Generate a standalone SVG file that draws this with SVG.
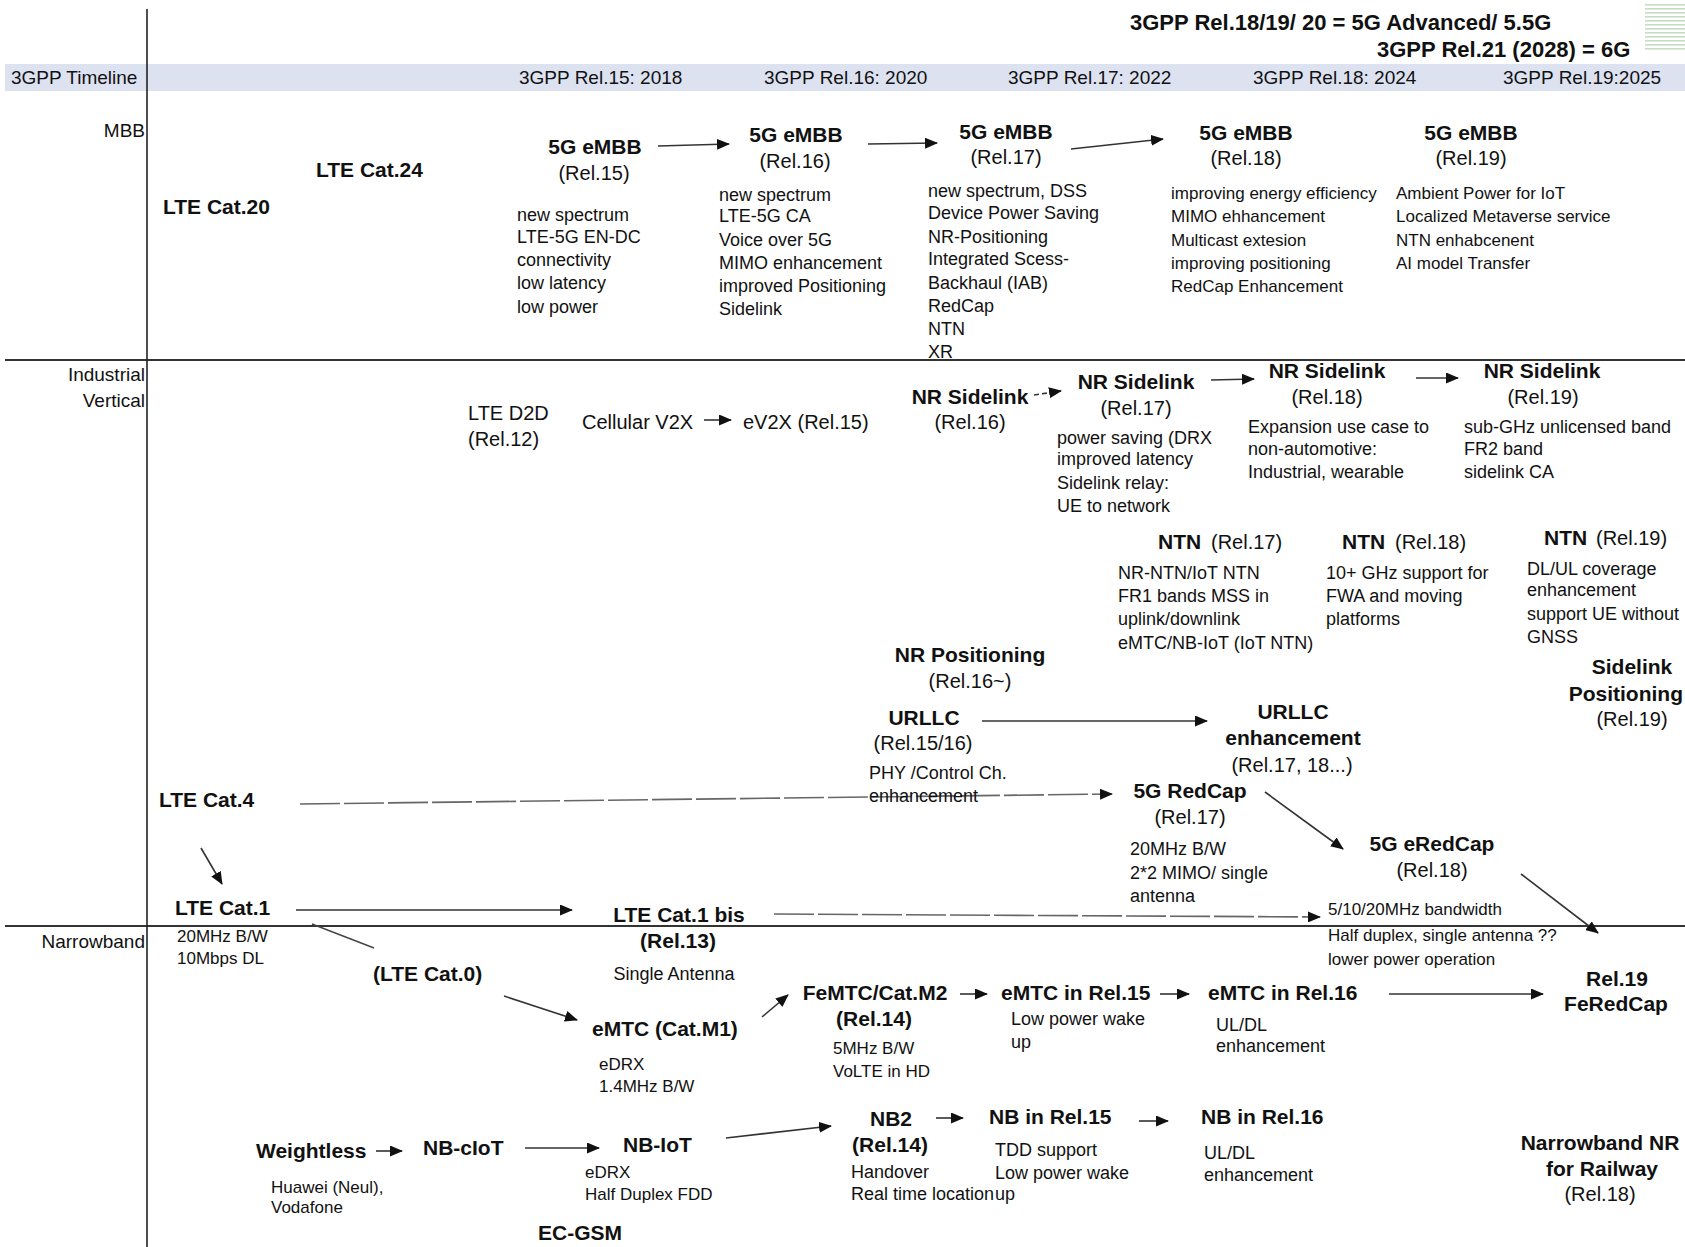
<svg xmlns="http://www.w3.org/2000/svg" width="1685" height="1247" viewBox="0 0 1685 1247">
<defs>
<style>
text{font-family:"Liberation Sans",Arial,sans-serif;fill:#111}
.b{font-weight:bold;font-size:21px}
.r{font-size:20px}
.l{font-size:18px}
.s{font-size:17px}
.tl{font-size:19px}
.h{font-weight:bold;font-size:22px}
.c{text-anchor:middle}
.e{text-anchor:end}
.cn{stroke:#333;stroke-width:1.6;fill:none;marker-end:url(#ah)}
.ds{stroke:#666;stroke-dasharray:40 4}
.ln{stroke:#333;stroke-width:2;fill:none}
</style>
<marker id="ah" markerUnits="userSpaceOnUse" markerWidth="13" markerHeight="11" viewBox="0 0 13 11" refX="12" refY="5.5" orient="auto">
<path d="M0,0 L13,5.5 L0,11 z" fill="#111"/>
</marker>
<pattern id="stripes" patternUnits="userSpaceOnUse" width="40" height="4">
<rect x="0" y="0" width="40" height="1.6" fill="#c6dcc4"/>
</pattern>
</defs>
<rect width="1685" height="1247" fill="#fff"/>
<g id="frame">
<rect x="5" y="64" width="1680" height="27" fill="#dde2f1"/>
<rect x="1645" y="2" width="40" height="50" fill="url(#stripes)"/>
<line class="ln" x1="5" y1="360" x2="1685" y2="360"/>
<line class="ln" x1="5" y1="926" x2="1685" y2="926"/>
<line x1="147" y1="9" x2="147" y2="1247" stroke="#222" stroke-width="1.6"/>
</g>
<g id="header">
<text class="h" x="1130" y="30">3GPP Rel.18/19/ 20 = 5G Advanced/ 5.5G</text>
<text class="h" x="1377" y="57">3GPP Rel.21 (2028) = 6G</text>
</g>
<g id="timeline">
<text class="tl" x="11" y="84">3GPP Timeline</text>
<text class="tl" x="519" y="84">3GPP Rel.15: 2018</text>
<text class="tl" x="764" y="84">3GPP Rel.16: 2020</text>
<text class="tl" x="1008" y="84">3GPP Rel.17: 2022</text>
<text class="tl" x="1253" y="84">3GPP Rel.18: 2024</text>
<text class="tl" x="1503" y="84">3GPP Rel.19:2025</text>
</g>
<g id="lanes">
<text class="tl e" x="145" y="137">MBB</text>
<text class="tl e" x="145" y="381">Industrial</text>
<text class="tl e" x="145" y="407">Vertical</text>
<text class="tl e" x="145" y="948">Narrowband</text>
</g>
<g id="connectors">
<line class="cn" x1="658" y1="146" x2="729" y2="144"/>
<line class="cn" x1="868" y1="144" x2="937" y2="143"/>
<line class="cn" x1="1071" y1="149" x2="1163" y2="139"/>
<line class="cn" x1="704" y1="420" x2="731" y2="420"/>
<line class="cn" x1="1034" y1="395" x2="1061" y2="391" style="stroke-dasharray:5 3"/>
<line class="cn" x1="1211" y1="380" x2="1254" y2="379"/>
<line class="cn" x1="1416" y1="378" x2="1458" y2="378"/>
<line class="cn" x1="982" y1="721" x2="1207" y2="721"/>
<line class="cn ds" x1="300" y1="804" x2="1112" y2="794"/>
<line class="cn" x1="1265" y1="792" x2="1343" y2="849"/>
<line class="cn" x1="1521" y1="874" x2="1598" y2="933"/>
<line class="cn" x1="201" y1="848" x2="222" y2="884"/>
<line class="cn" x1="296" y1="910" x2="572" y2="910"/>
<line x1="312" y1="924" x2="374" y2="948" stroke="#444" stroke-width="1.4"/>
<line class="cn ds" x1="774" y1="914" x2="1320" y2="917"/>
<line class="cn" x1="504" y1="996" x2="577" y2="1020"/>
<line class="cn" x1="762" y1="1017" x2="788" y2="995"/>
<line class="cn" x1="960" y1="994" x2="987" y2="994"/>
<line class="cn" x1="1160" y1="994" x2="1189" y2="994"/>
<line class="cn" x1="1389" y1="994" x2="1543" y2="994"/>
<line class="cn" x1="376" y1="1151" x2="402" y2="1151"/>
<line class="cn" x1="525" y1="1148" x2="599" y2="1148"/>
<line class="cn" x1="726" y1="1138" x2="831" y2="1126"/>
<line class="cn" x1="936" y1="1118" x2="963" y2="1118"/>
<line class="cn" x1="1139" y1="1121" x2="1168" y2="1121"/>
</g>
<g id="lte-cat20"><text class="b" x="163" y="214">LTE Cat.20</text></g>
<g id="lte-cat24"><text class="b" x="316" y="177">LTE Cat.24</text></g>
<g id="embb-15">
<text class="b c" x="595" y="154">5G eMBB</text>
<text class="r c" x="594" y="180">(Rel.15)</text>
<text class="l" x="517" y="221">new spectrum</text>
<text class="l" x="517" y="243">LTE-5G EN-DC</text>
<text class="l" x="517" y="266">connectivity</text>
<text class="l" x="517" y="289">low latency</text>
<text class="l" x="517" y="313">low power</text>
</g>
<g id="embb-16">
<text class="b c" x="796" y="142">5G eMBB</text>
<text class="r c" x="795" y="168">(Rel.16)</text>
<text class="l" x="719" y="201">new spectrum</text>
<text class="l" x="719" y="222">LTE-5G CA</text>
<text class="l" x="719" y="246">Voice over 5G</text>
<text class="l" x="719" y="269">MIMO enhancement</text>
<text class="l" x="719" y="292">improved Positioning</text>
<text class="l" x="719" y="315">Sidelink</text>
</g>
<g id="embb-17">
<text class="b c" x="1006" y="139">5G eMBB</text>
<text class="r c" x="1006" y="164">(Rel.17)</text>
<text class="l" x="928" y="197">new spectrum, DSS</text>
<text class="l" x="928" y="219">Device Power Saving</text>
<text class="l" x="928" y="243">NR-Positioning</text>
<text class="l" x="928" y="265">Integrated Scess-</text>
<text class="l" x="928" y="289">Backhaul (IAB)</text>
<text class="l" x="928" y="312">RedCap</text>
<text class="l" x="928" y="335">NTN</text>
<text class="l" x="928" y="358">XR</text>
</g>
<g id="embb-18">
<text class="b c" x="1246" y="140">5G eMBB</text>
<text class="r c" x="1246" y="165">(Rel.18)</text>
<text class="s" x="1171" y="199">improving energy efficiency</text>
<text class="s" x="1171" y="222">MIMO ehhancement</text>
<text class="s" x="1171" y="246">Multicast extesion</text>
<text class="s" x="1171" y="269">improving positioning</text>
<text class="s" x="1171" y="292">RedCap Enhancement</text>
</g>
<g id="embb-19">
<text class="b c" x="1471" y="140">5G eMBB</text>
<text class="r c" x="1471" y="165">(Rel.19)</text>
<text class="s" x="1396" y="199">Ambient Power for IoT</text>
<text class="s" x="1396" y="222">Localized Metaverse service</text>
<text class="s" x="1396" y="246">NTN enhabcenent</text>
<text class="s" x="1396" y="269">AI model Transfer</text>
</g>
<g id="lte-d2d">
<text class="r" x="468" y="420">LTE D2D</text>
<text class="r" x="468" y="446">(Rel.12)</text>
</g>
<g id="cv2x"><text class="r" x="582" y="429">Cellular V2X</text></g>
<g id="ev2x"><text class="r" x="743" y="429">eV2X (Rel.15)</text></g>
<g id="sl-16">
<text class="b c" x="970" y="404">NR Sidelink</text>
<text class="r c" x="970" y="429">(Rel.16)</text>
</g>
<g id="sl-17">
<text class="b c" x="1136" y="389">NR Sidelink</text>
<text class="r c" x="1136" y="415">(Rel.17)</text>
<text class="l" x="1057" y="444">power saving (DRX</text>
<text class="l" x="1057" y="465">improved latency</text>
<text class="l" x="1057" y="489">Sidelink relay:</text>
<text class="l" x="1057" y="512">UE to network</text>
</g>
<g id="sl-18">
<text class="b c" x="1327" y="378">NR Sidelink</text>
<text class="r c" x="1327" y="404">(Rel.18)</text>
<text class="l" x="1248" y="433">Expansion use case to</text>
<text class="l" x="1248" y="455">non-automotive:</text>
<text class="l" x="1248" y="478">Industrial, wearable</text>
</g>
<g id="sl-19">
<text class="b c" x="1542" y="378">NR Sidelink</text>
<text class="r c" x="1543" y="404">(Rel.19)</text>
<text class="l" x="1464" y="433">sub-GHz unlicensed band</text>
<text class="l" x="1464" y="455">FR2 band</text>
<text class="l" x="1464" y="478">sidelink CA</text>
</g>
<g id="ntn-17">
<text class="b" x="1158" y="549">NTN</text>
<text class="r" x="1211" y="549">(Rel.17)</text>
<text class="l" x="1118" y="579">NR-NTN/IoT NTN</text>
<text class="l" x="1118" y="602">FR1 bands MSS in</text>
<text class="l" x="1118" y="625">uplink/downlink</text>
<text class="l" x="1118" y="649">eMTC/NB-IoT (IoT NTN)</text>
</g>
<g id="ntn-18">
<text class="b" x="1342" y="549">NTN</text>
<text class="r" x="1395" y="549">(Rel.18)</text>
<text class="l" x="1326" y="579">10+ GHz support for</text>
<text class="l" x="1326" y="602">FWA and moving</text>
<text class="l" x="1326" y="625">platforms</text>
</g>
<g id="ntn-19">
<text class="b" x="1544" y="545">NTN</text>
<text class="r" x="1596" y="545">(Rel.19)</text>
<text class="l" x="1527" y="575">DL/UL coverage</text>
<text class="l" x="1527" y="596">enhancement</text>
<text class="l" x="1527" y="620">support UE without</text>
<text class="l" x="1527" y="643">GNSS</text>
</g>
<g id="sl-pos">
<text class="b c" x="1632" y="674">Sidelink</text>
<text class="b e" x="1683" y="701">Positioning</text>
<text class="r c" x="1632" y="726">(Rel.19)</text>
</g>
<g id="nr-pos">
<text class="b c" x="970" y="662">NR Positioning</text>
<text class="r c" x="970" y="688">(Rel.16~)</text>
</g>
<g id="urllc">
<text class="b c" x="924" y="725">URLLC</text>
<text class="r c" x="923" y="750">(Rel.15/16)</text>
<text class="l" x="869" y="779">PHY /Control Ch.</text>
<text class="l" x="869" y="802">enhancement</text>
</g>
<g id="urllc-enh">
<text class="b c" x="1293" y="719">URLLC</text>
<text class="b c" x="1293" y="745">enhancement</text>
<text class="r c" x="1292" y="772">(Rel.17, 18...)</text>
</g>
<g id="lte-cat4"><text class="b" x="159" y="807">LTE Cat.4</text></g>
<g id="redcap">
<text class="b c" x="1190" y="798">5G RedCap</text>
<text class="r c" x="1190" y="824">(Rel.17)</text>
<text class="l" x="1130" y="855">20MHz B/W</text>
<text class="l" x="1130" y="879">2*2 MIMO/ single</text>
<text class="l" x="1130" y="902">antenna</text>
</g>
<g id="eredcap">
<text class="b c" x="1432" y="851">5G eRedCap</text>
<text class="r c" x="1432" y="877">(Rel.18)</text>
<text class="s" x="1328" y="915">5/10/20MHz bandwidth</text>
<text class="s" x="1328" y="941">Half duplex, single antenna ??</text>
<text class="s" x="1328" y="965">lower power operation</text>
</g>
<g id="lte-cat1">
<text class="b" x="175" y="915">LTE Cat.1</text>
<text class="s" x="177" y="942">20MHz B/W</text>
<text class="s" x="177" y="964">10Mbps DL</text>
</g>
<g id="lte-cat1bis">
<text class="b c" x="679" y="922">LTE Cat.1 bis</text>
<text class="b c" x="678" y="948">(Rel.13)</text>
<text class="l c" x="674" y="980">Single Antenna</text>
</g>
<g id="lte-cat0"><text class="b" x="373" y="981">(LTE Cat.0)</text></g>
<g id="emtc">
<text class="b" x="592" y="1036">eMTC (Cat.M1)</text>
<text class="s" x="599" y="1070">eDRX</text>
<text class="s" x="599" y="1092">1.4MHz B/W</text>
</g>
<g id="femtc">
<text class="b c" x="875" y="1000">FeMTC/Cat.M2</text>
<text class="b c" x="874" y="1026">(Rel.14)</text>
<text class="s" x="833" y="1054">5MHz B/W</text>
<text class="s" x="833" y="1077">VoLTE in HD</text>
</g>
<g id="emtc-15">
<text class="b" x="1001" y="1000">eMTC in Rel.15</text>
<text class="l" x="1011" y="1025">Low power wake</text>
<text class="l" x="1011" y="1048">up</text>
</g>
<g id="emtc-16">
<text class="b" x="1208" y="1000">eMTC in Rel.16</text>
<text class="l" x="1216" y="1031">UL/DL</text>
<text class="l" x="1216" y="1052">enhancement</text>
</g>
<g id="feredcap">
<text class="b c" x="1617" y="986">Rel.19</text>
<text class="b c" x="1616" y="1011">FeRedCap</text>
</g>
<g id="weightless">
<text class="b" x="256" y="1158">Weightless</text>
<text class="s" x="271" y="1193">Huawei (Neul),</text>
<text class="s" x="271" y="1213">Vodafone</text>
</g>
<g id="nb-ciot"><text class="b" x="423" y="1155">NB-cIoT</text></g>
<g id="nb-iot">
<text class="b" x="623" y="1152">NB-IoT</text>
<text class="s" x="585" y="1178">eDRX</text>
<text class="s" x="585" y="1200">Half Duplex FDD</text>
</g>
<g id="ec-gsm"><text class="b" x="538" y="1240">EC-GSM</text></g>
<g id="nb2">
<text class="b c" x="891" y="1126">NB2</text>
<text class="b c" x="890" y="1152">(Rel.14)</text>
<text class="l" x="851" y="1178">Handover</text>
<text class="l" x="851" y="1200">Real time location</text>
</g>
<g id="nb-15">
<text class="b" x="989" y="1124">NB in Rel.15</text>
<text class="l" x="995" y="1156">TDD support</text>
<text class="l" x="995" y="1179">Low power wake</text>
<text class="l" x="995" y="1200">up</text>
</g>
<g id="nb-16">
<text class="b" x="1201" y="1124">NB in Rel.16</text>
<text class="l" x="1204" y="1159">UL/DL</text>
<text class="l" x="1204" y="1181">enhancement</text>
</g>
<g id="nb-nr-railway">
<text class="b c" x="1600" y="1150">Narrowband NR</text>
<text class="b c" x="1602" y="1176">for Railway</text>
<text class="r c" x="1600" y="1201">(Rel.18)</text>
</g>
</svg>
